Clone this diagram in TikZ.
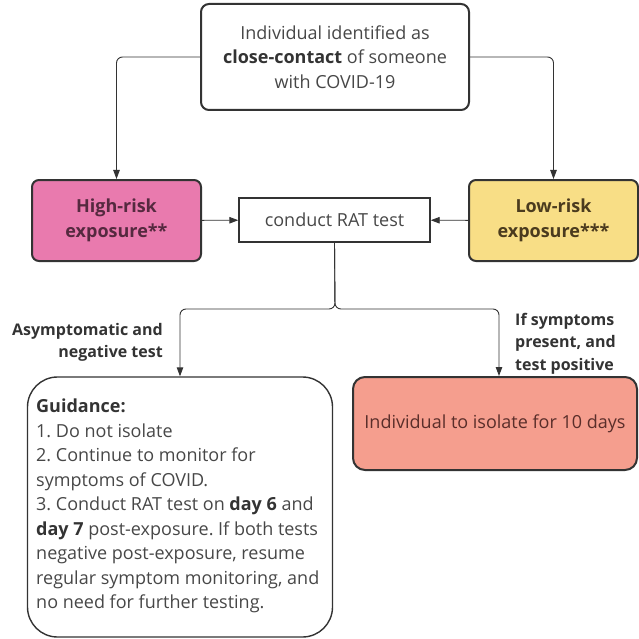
\documentclass[tikz,border=0pt]{standalone}
\usepackage{fontspec}
\setmainfont{Open Sans}
\usetikzlibrary{arrows.meta}
\frenchspacing

\definecolor{linedark}{HTML}{333333}
\definecolor{textgray}{HTML}{474747}
\definecolor{highfill}{HTML}{E97AAE}
\definecolor{hightext}{HTML}{55293F}
\definecolor{lowfill}{HTML}{F8DE86}
\definecolor{lowtext}{HTML}{4B3B1E}
\definecolor{isofill}{HTML}{F59E8E}
\definecolor{isotext}{HTML}{5A2E2A}

\begin{document}
\begin{tikzpicture}[x=1pt, y=-1pt]
        %style
        \tikzset{txt/.style = {font=\fontsize{18}{24.5}\selectfont, text=textgray}}
        \tikzset{topbox/.style = {shape=rectangle, draw=linedark, line width=2pt, rounded corners=8pt, minimum width=268pt, minimum height=106pt, align=center, txt}}
        \tikzset{riskbox/.style = {shape=rectangle, draw=linedark, line width=2pt, rounded corners=7pt, minimum width=169pt, minimum height=81pt, align=center, txt, font=\fontsize{18}{24.5}\selectfont\bfseries}}
        \tikzset{ratbox/.style = {shape=rectangle, draw=linedark, line width=1.4pt, minimum width=191pt, minimum height=44pt, txt}}
        \tikzset{guidebox/.style = {shape=rectangle, draw=linedark, line width=1.4pt, rounded corners=30pt, minimum width=305pt, minimum height=260pt}}
        \tikzset{isobox/.style = {shape=rectangle, draw=linedark, line width=2pt, rounded corners=12pt, fill=isofill, minimum width=284pt, minimum height=93pt, txt, text=isotext}}
        \tikzset{lbl/.style = {inner sep=0pt, text=linedark, font=\fontsize{16}{22.5}\selectfont\bfseries}}
        \tikzset{arrow/.style = {draw=linedark, line width=0.9pt, rounded corners=6pt, -{Triangle[length=9pt, width=6.5pt]}}}
        \useasboundingbox (0,0) rectangle (639,639);
        \node[topbox]  (top)   at (335,57)    {Individual identified as\\{\color{linedark}\bfseries close-contact} of someone\\with COVID-19};
        \node[riskbox, fill=highfill, text=hightext] (high) at (116.5,220.5) {High-risk\\exposure**};
        \node[riskbox, fill=lowfill, text=lowtext]   (low)  at (553.5,220.5) {Low-risk\\exposure***};
        \node[ratbox]  (rat)   at (334.5,220) {conduct RAT test};
        \node[guidebox] (guide) at (180,507)  {};
        \node[isobox]  (iso)   at (495,423.5) {Individual to isolate for 10 days};
        \node[txt, anchor=north west, align=left, inner sep=0pt] (guidetext) at (36,399)
            {{\color{linedark}\bfseries Guidance:}\\
             1. Do not isolate\\
             2. Continue to monitor for\\
             symptoms of COVID.\\
             3. Conduct RAT test on {\color{linedark}\bfseries day 6} and\\
             {\color{linedark}\bfseries day 7} post-exposure. If both tests\\
             negative post-exposure, resume\\
             regular symptom monitoring, and\\
             no need for further testing.};
        \node[lbl, anchor=north east, align=right] (asym) at (163,323) {Asymptomatic and\\negative test};
        \node[lbl, anchor=north west, align=left]  (symp) at (515,313) {If symptoms\\present, and\\test positive};
        \coordinate (split) at (335,309);
        \draw[arrow] (top.west) -| (high.north);
        \draw[arrow] (top.east) -| (low.north);
        \draw[arrow] (high) -- (rat);
        \draw[arrow] (low) -- (rat);
        \draw[arrow] (rat.south) -- (split) -| (guide.north);
        \draw[arrow] (rat.south) -- (split) -| ([xshift=4pt]iso.north);
\end{tikzpicture}
\end{document}
